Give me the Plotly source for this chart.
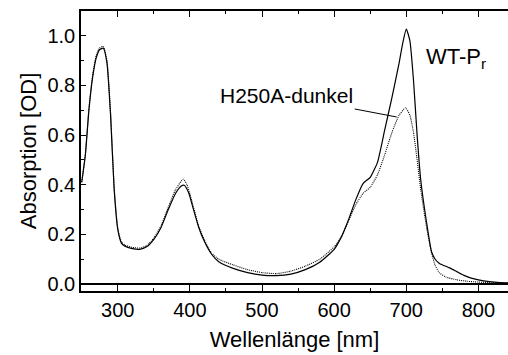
import plotly.graph_objects as go

# WT-Pr (solid)
wl_wt = [250, 255, 260, 265, 270, 275, 280, 285, 290, 295, 300, 305, 310, 320, 330, 340, 350, 360, 370, 380,
         388, 392, 398, 405, 412, 420, 430, 440, 460, 480, 500, 520, 540, 560, 580, 600, 610, 620, 630, 640,
         650, 660, 670, 680, 690, 695, 700, 705, 710, 715, 720, 728, 735, 740, 746, 760, 770, 780, 790, 800,
         815, 830, 841]
abs_wt = [0.41, 0.52, 0.70, 0.83, 0.91, 0.945, 0.95, 0.89, 0.68, 0.38, 0.22, 0.165, 0.152, 0.143, 0.140, 0.150,
          0.180, 0.228, 0.300, 0.365, 0.395, 0.398, 0.37, 0.30, 0.23, 0.172, 0.12, 0.09, 0.063, 0.046, 0.036,
          0.034, 0.040, 0.058, 0.088, 0.14, 0.19, 0.26, 0.34, 0.405, 0.43, 0.49, 0.62, 0.75, 0.89, 0.97, 1.027,
          0.98, 0.82, 0.60, 0.42, 0.25, 0.13, 0.10, 0.083, 0.065, 0.05, 0.035, 0.024, 0.017, 0.01, 0.006, 0.005]

# H250A-dunkel (dotted)
wl_h = [250, 255, 260, 265, 270, 275, 280, 285, 290, 295, 300, 305, 310, 320, 330, 340, 350, 360, 370, 380,
        388, 391, 396, 405, 412, 420, 430, 440, 460, 480, 500, 520, 540, 560, 580, 600, 610, 620, 630, 640,
        650, 660, 670, 680, 690, 699, 705, 710, 715, 720, 728, 735, 740, 746, 755, 770, 785, 800, 820, 841]
abs_h = [0.41, 0.52, 0.71, 0.84, 0.92, 0.952, 0.957, 0.90, 0.69, 0.39, 0.225, 0.17, 0.157, 0.148, 0.145, 0.155,
         0.185, 0.235, 0.31, 0.38, 0.415, 0.422, 0.40, 0.31, 0.235, 0.178, 0.125, 0.10, 0.077, 0.058, 0.046,
         0.042, 0.052, 0.072, 0.10, 0.15, 0.19, 0.255, 0.32, 0.365, 0.39, 0.44, 0.52, 0.61, 0.68, 0.71, 0.68,
         0.61, 0.50, 0.38, 0.23, 0.125, 0.075, 0.045, 0.028, 0.017, 0.011, 0.008, 0.005, 0.004]

x_ticks = [300, 400, 500, 600, 700, 800]
y_ticks = [0.0, 0.2, 0.4, 0.6, 0.8, 1.0]

FONT = "Liberation Sans, Arial, sans-serif"

fig = go.Figure()
fig.add_trace(go.Scatter(x=wl_h, y=abs_h, mode="lines",
                         line=dict(color="black", width=1.1, dash="1px,1px", shape="spline", smoothing=0.5),
                         name="H250A-dunkel"))
fig.add_trace(go.Scatter(x=wl_wt, y=abs_wt, mode="lines",
                         line=dict(color="black", width=1.2, shape="spline", smoothing=0.5), name="WT-Pr"))

# pixel position of the WT-Pr label converted to paper coordinates
wt_px, wt_py = 456, 58
plot_l, plot_t, plot_w, plot_h = 81, 11, 508 - 81, 355 - 11 - 64

fig.update_layout(
    width=508, height=355,
    margin=dict(l=81, r=0, t=11, b=64),
    paper_bgcolor="white", plot_bgcolor="white",
    showlegend=False,
    font=dict(family=FONT, color="black"),
    xaxis=dict(range=[249, 841], tickvals=x_ticks, ticks="inside", ticklen=6, tickwidth=1, tickcolor="black",
               showline=True, linecolor="black", linewidth=1.5, mirror="ticks", showgrid=False, zeroline=False,
               tickfont=dict(size=20),
               minor=dict(dtick=50, ticks="inside", ticklen=3, tickcolor="black", showgrid=False),
               title=dict(text="Wellenlänge [nm]", font=dict(size=22), standoff=12)),
    yaxis=dict(range=[-0.028, 1.10], tickvals=y_ticks, tickformat=".1f", ticks="inside", ticklen=5, tickwidth=1,
               tickcolor="black", showline=True, linecolor="black", linewidth=1.5, showgrid=False,
               zeroline=True, zerolinecolor="black", zerolinewidth=1.5,
               tickfont=dict(size=20),
               minor=dict(dtick=0.1, ticks="inside", ticklen=3, tickcolor="black", showgrid=False),
               title=dict(text="Absorption [OD]", font=dict(size=22), standoff=5)),
    annotations=[
        dict(x=686.7, y=0.673, xref="x", yref="y", text="H250A-dunkel", showarrow=True, arrowhead=0,
             arrowwidth=1, arrowcolor="black", ax=-110, ay=-21,
             font=dict(size=21, family=FONT, color="black")),
        dict(x=(wt_px - plot_l) / plot_w, y=1 - (wt_py - plot_t) / plot_h, xref="paper", yref="paper",
             xanchor="center", yanchor="middle",
             text="WT-P<sub>r</sub>", showarrow=False, font=dict(size=22, family=FONT, color="black")),
    ],
)

fig.write_html("out.html")
